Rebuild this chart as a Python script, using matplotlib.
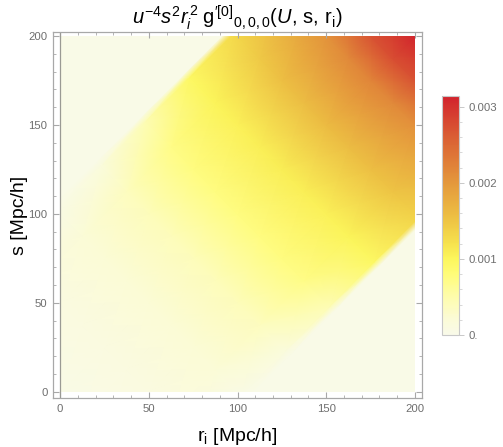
import numpy as np
import matplotlib
matplotlib.use('Agg')
import matplotlib.pyplot as plt
from matplotlib.colors import LinearSegmentedColormap
from matplotlib.patches import Rectangle
from matplotlib.ticker import MultipleLocator

plt.rcParams['font.family'] = ['Liberation Sans', 'DejaVu Sans']
plt.rcParams['mathtext.fontset'] = 'custom'
plt.rcParams['mathtext.rm'] = 'Liberation Sans'
plt.rcParams['mathtext.it'] = 'Liberation Sans:italic'

# field on a skewed grid: u = r_i + s, v = s - r_i
u_nodes = [0, 50, 100, 150, 200, 250, 300, 350, 375, 400]
v_nodes = [-200, -109, -104, -75, -50, -25, 0, 25, 50, 75, 104, 109, 200]
# values in units of 1e-3, one row per v node
g_vals = [
    [0.03, 0.03, 0.03, 0.03, 0.03, 0.03, 0.03, 0.03, 0.03, 0.03],
    [0.03, 0.03, 0.03, 0.03, 0.03, 0.03, 0.03, 0.03, 0.03, 0.03],
    [0.03, 0.04, 0.06, 0.15, 0.45, 0.95, 1.35, 1.75, 2.00, 2.30],
    [0.04, 0.10, 0.20, 0.38, 0.72, 1.02, 1.50, 1.95, 2.30, 2.60],
    [0.04, 0.10, 0.22, 0.40, 0.75, 1.05, 1.55, 2.08, 2.50, 2.90],
    [0.04, 0.10, 0.22, 0.40, 0.76, 1.07, 1.58, 2.15, 2.70, 3.00],
    [0.04, 0.10, 0.22, 0.40, 0.76, 1.08, 1.60, 2.20, 2.75, 3.12],
    [0.04, 0.10, 0.22, 0.40, 0.76, 1.07, 1.58, 2.15, 2.70, 3.00],
    [0.04, 0.10, 0.22, 0.40, 0.75, 1.05, 1.55, 2.05, 2.50, 2.90],
    [0.04, 0.10, 0.20, 0.38, 0.72, 1.02, 1.45, 1.90, 2.30, 2.60],
    [0.03, 0.04, 0.06, 0.15, 0.45, 0.95, 1.30, 1.70, 2.00, 2.30],
    [0.03, 0.03, 0.03, 0.03, 0.03, 0.03, 0.03, 0.03, 0.03, 0.03],
    [0.03, 0.03, 0.03, 0.03, 0.03, 0.03, 0.03, 0.03, 0.03, 0.03],
]
vmax = 0.00314

cb_ticks = [0, 0.001, 0.002, 0.003]
cb_labels = ['0.', '0.001', '0.002', '0.003']

# colour scale (value, rgb)
cmap_stops = [
    (0.0, (249, 250, 233)),
    (0.0002, (251, 251, 215)),
    (0.0005, (254, 252, 172)),
    (0.0008, (255, 252, 120)),
    (0.001, (252, 246, 92)),
    (0.0012, (246, 226, 78)),
    (0.0015, (238, 196, 68)),
    (0.002, (228, 152, 60)),
    (0.0026, (218, 95, 52)),
    (0.00314, (210, 35, 45)),
]
cmap = LinearSegmentedColormap.from_list(
    'solar', [(v / vmax, tuple(c / 255 for c in rgb)) for v, rgb in cmap_stops])

U, V = np.meshgrid(u_nodes, v_nodes)
R = (U - V) / 2
S = (U + V) / 2
C = np.array(g_vals) * 1e-3

fig = plt.figure(figsize=(5.03, 4.47), dpi=100)
ax = fig.add_axes([0.1054, 0.1096, 0.7336, 0.8188])
cax = fig.add_axes([0.8787, 0.2506, 0.0338, 0.5347])

mesh = ax.pcolormesh(R, S, C, shading='gouraud', cmap=cmap, vmin=0, vmax=vmax)
mesh.set_clip_path(Rectangle((0, 0), 200, 200, transform=ax.transData))
ax.axvline(0, color='#9a9a94', lw=0.9)

ax.set_xlim(-4, 204)
ax.set_ylim(-3.6, 202.3)

frame_col = '#a8a8a8'
for sp in ax.spines.values():
    sp.set_color(frame_col)
    sp.set_linewidth(0.9)
ax.xaxis.set_major_locator(MultipleLocator(50))
ax.xaxis.set_minor_locator(MultipleLocator(10))
ax.yaxis.set_major_locator(MultipleLocator(50))
ax.yaxis.set_minor_locator(MultipleLocator(10))
ax.tick_params(which='both', direction='in', top=True, right=True,
               color=frame_col, labelcolor='#6e6e6e', labelsize=8.2, pad=4)
ax.tick_params(which='major', length=4.5, width=0.8)
ax.tick_params(which='minor', length=2.5, width=0.6)

ax.set_xlabel(r'r$_\mathrm{i}$ [Mpc/h]', fontsize=14, labelpad=9)
ax.set_ylabel('s [Mpc/h]', fontsize=14, labelpad=0.5)
ax.set_title(r"$u^{-4}s^2r_i^{\,2}\;\mathrm{g}^{\prime[0]}{}_{0,0,0}(U,\,\mathrm{s},\,\mathrm{r_i})$",
             fontsize=14.5, pad=6)

cb = fig.colorbar(mesh, cax=cax, ticks=cb_ticks)
cb.ax.set_yticklabels(cb_labels)
cb.outline.set_edgecolor('#c8c8c8')
cb.outline.set_linewidth(0.8)
cb.ax.yaxis.set_minor_locator(MultipleLocator(0.0002))
cb.ax.tick_params(which='both', direction='out', color='#c8c8c8',
                  labelcolor='#6e6e6e', labelsize=8.2)
cb.ax.tick_params(which='major', length=3.5, width=0.7)
cb.ax.tick_params(which='minor', length=2, width=0.5)

fig.savefig('out.png', dpi=100)
